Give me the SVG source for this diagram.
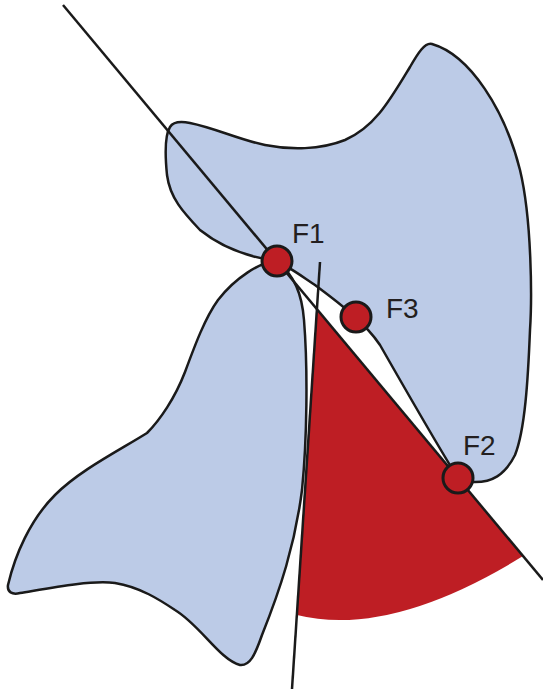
<svg xmlns="http://www.w3.org/2000/svg" width="543" height="691" viewBox="0 0 543 691">
  <style>
    .shape { fill: #bccbe7; stroke: #1a1a1a; stroke-width: 2.5; stroke-linejoin: round; }
    .line { fill: none; stroke: #1a1a1a; stroke-width: 2.5; }
    .focus { fill: #be1e24; stroke: #1a1a1a; stroke-width: 3; }
    .label { font-family: "Liberation Sans", Arial, sans-serif; font-size: 28px; fill: #231f20; }
  </style>
  <rect width="543" height="691" fill="#ffffff"/>
  <g id="wedge">
    <path d="M 317,309.3 L 523,556.1 Q 390,638 297,615 Z" fill="#be1e24"/>
  </g>
  <g id="upper-shape">
    <path class="shape" d="M 276,261 C 255,258 225,250 200,230 C 183,212 170,198 167,175 C 165,155 165,135 170,127 C 173,122 180,121 190,123 C 215,128 240,140 265,145 C 290,150 320,150 345,140 C 375,127 390,100 410,67 C 418,53 425,42 432,44 C 470,55 505,110 520,170 C 532,220 532,300 530,330 C 528,380 525,430 515,455 C 505,475 492,483 472,482 L 458,478 C 440,450 400,380 380,345 C 365,322 335,300 315,285 C 300,275 288,266 276,261 Z"/>
  </g>
  <g id="lower-shape">
    <path class="shape" d="M 276,261 C 260,262 235,278 218,300 C 205,318 195,345 185,372 C 175,398 160,420 147,433 C 120,450 80,470 55,495 C 30,520 15,555 8,585 C 7,592 12,595 20,593 C 50,588 90,580 115,583 C 140,587 160,600 175,610 C 200,625 220,660 240,665 C 250,666 255,655 262,635 C 280,590 295,545 302,490 C 307,440 308,370 304,320 C 302,295 295,275 276,261 Z"/>
  </g>
  <g id="connectors">
    <line class="line" x1="63" y1="5" x2="543" y2="580"/>
    <line class="line" x1="320" y1="262" x2="292" y2="689"/>
  </g>
  <g id="F1">
    <circle class="focus" cx="277" cy="261" r="15"/>
    <text class="label" x="292" y="243">F1</text>
  </g>
  <g id="F3">
    <circle class="focus" cx="356" cy="317" r="15"/>
    <text class="label" x="386" y="318">F3</text>
  </g>
  <g id="F2">
    <circle class="focus" cx="458" cy="478" r="15"/>
    <text class="label" x="463" y="455">F2</text>
  </g>
</svg>
